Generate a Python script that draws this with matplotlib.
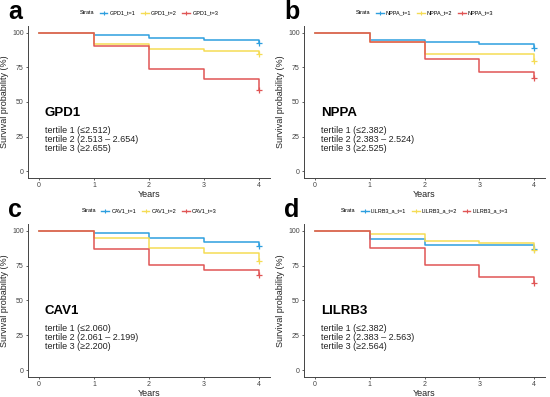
import matplotlib
matplotlib.use("Agg")
import matplotlib.pyplot as plt
from matplotlib.lines import Line2D
from matplotlib.offsetbox import HPacker

plt.rcParams['font.family'] = ['Liberation Sans', 'DejaVu Sans']

years = [0, 1, 2, 3, 4]
year_ticks = [0, 1, 2, 3, 4]
prob_ticks = [0, 25, 50, 75, 100]

panel_letters = ['a', 'b', 'c', 'd']
genes = ['GPD1', 'NPPA', 'CAV1', 'LILRB3']
strata_prefix = ['GPD1_t', 'NPPA_t', 'CAV1_t', 'LILRB3_a_t']
tertile_text = [
    ['tertile 1 (\u22642.512)', 'tertile 2 (2.513 \u2013 2.654)', 'tertile 3 (\u22652.655)'],
    ['tertile 1 (\u22642.382)', 'tertile 2 (2.383 \u2013 2.524)', 'tertile 3 (\u22652.525)'],
    ['tertile 1 (\u22642.060)', 'tertile 2 (2.061 \u2013 2.199)', 'tertile 3 (\u22652.200)'],
    ['tertile 1 (\u22642.382)', 'tertile 2 (2.383 \u2013 2.563)', 'tertile 3 (\u22652.564)'],
]

gpd1_t1 = [100, 98.3, 96.2, 94.7, 93.0]
gpd1_t2 = [100, 92.0, 88.5, 87.0, 84.4]
gpd1_t3 = [100, 90.6, 74.0, 66.8, 59.0]

nppa_t1 = [100, 95.0, 93.3, 92.0, 89.0]
nppa_t2 = [100, 93.3, 85.0, 85.0, 80.0]
nppa_t3 = [100, 93.3, 80.8, 71.9, 67.3]

cav1_t1 = [100, 98.3, 94.7, 91.8, 89.2]
cav1_t2 = [100, 95.0, 87.5, 84.2, 78.4]
cav1_t3 = [100, 87.0, 75.8, 71.7, 68.3]

lilrb3_t1 = [100, 94.2, 89.7, 89.7, 87.0]
lilrb3_t2 = [100, 97.8, 93.0, 91.4, 86.6]
lilrb3_t3 = [100, 88.0, 75.8, 67.0, 62.4]

series = [
    [gpd1_t1, gpd1_t2, gpd1_t3],
    [nppa_t1, nppa_t2, nppa_t3],
    [cav1_t1, cav1_t2, cav1_t3],
    [lilrb3_t1, lilrb3_t2, lilrb3_t3],
]

colors = ['#2E9FDF', '#F5DC55', '#E05555']

W, H = 550, 397
fig = plt.figure(figsize=(5.5, 3.97), dpi=100)

# axes boxes in pixels: left, top, right, bottom
boxes = [
    (28, 26, 270, 178),
    (304, 26, 545, 178),
    (28, 224, 270, 377),
    (304, 224, 545, 377),
]

for i in range(4):
    l, t, r, b = boxes[i]
    ax = fig.add_axes([l / W, 1 - b / H, (r - l) / W, (b - t) / H])
    for k in range(3):
        ax.step(years, series[i][k], where='post', color=colors[k], lw=1.1)
        ax.plot(years[-1], series[i][k][-1], marker='+', color=colors[k],
                ms=4, mew=0.9, ls='none')
    ax.set_xlim(-0.2, 4.2)
    ax.set_ylim(-5, 105)
    ax.set_xticks(year_ticks)
    ax.set_yticks(prob_ticks)
    ax.tick_params(labelsize=5, colors='#444444', length=1.5, width=0.6, pad=1.5)
    for s in ['top', 'right']:
        ax.spines[s].set_visible(False)
    for s in ['left', 'bottom']:
        ax.spines[s].set_color('#444444')
        ax.spines[s].set_linewidth(0.7)
    ax.set_xlabel('Years', fontsize=6.5, labelpad=0.5, color='#222222')
    ax.set_ylabel('Survival probability (%)', fontsize=6.5, labelpad=2, color='#222222')
    ax.text(0.07, 0.43, genes[i], transform=ax.transAxes, fontsize=9.5,
            fontweight='bold', va='center', ha='left')
    ax.text(0.07, 0.345, '\n'.join(tertile_text[i]), transform=ax.transAxes,
            fontsize=6.5, va='top', ha='left', linespacing=1.0, color='#222222')

    # panel letter
    fig.text((l - 20) / W, 1 - (t - 14) / H, panel_letters[i], fontsize=18,
             fontweight='bold', va='center', ha='left')

    # legend on top
    handles = [Line2D([0], [0], color=colors[k], lw=1.0, marker='+', ms=3.5, mew=0.8)
               for k in range(3)]
    labels = [f'{strata_prefix[i]}={k + 1}' for k in range(3)]
    leg = fig.legend(handles, labels, title='Strata', loc='center',
                     bbox_to_anchor=((l + r) / 2 / W, 1 - (t - 13) / H),
                     ncol=3, fontsize=4, title_fontsize=4, frameon=False,
                     handlelength=1.4, handletextpad=0.4, columnspacing=1.0,
                     borderaxespad=0, borderpad=0)
    title_box = leg._legend_title_box
    body = leg._legend_handle_box
    leg._legend_box._children = [HPacker(pad=0, sep=4, children=[title_box, body], align='center')]

fig.savefig('out.png', dpi=100)
